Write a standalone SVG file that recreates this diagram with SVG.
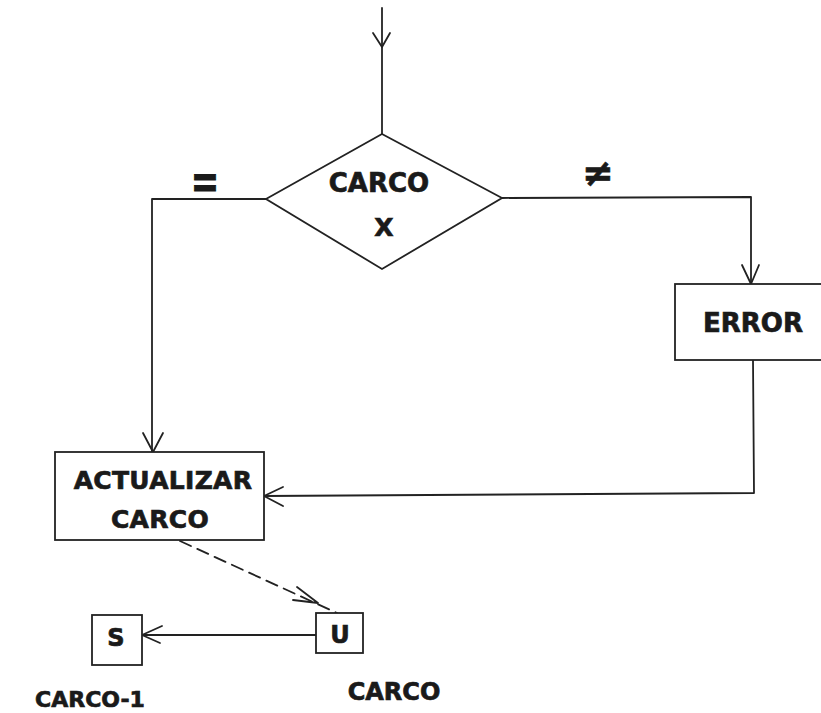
<svg xmlns="http://www.w3.org/2000/svg" width="821" height="713" viewBox="0 0 821 713">
<style>
.ln{fill:none;stroke:#222;stroke-width:1.8;stroke-linecap:round;stroke-linejoin:round}
.bx{fill:#fff;stroke:#222;stroke-width:1.8}
.ah{fill:none;stroke:#222;stroke-width:1.8;stroke-linecap:round;stroke-linejoin:round}
.t{font-family:"DejaVu Sans","Liberation Sans",sans-serif;font-weight:bold;fill:#1a1a1a;stroke:#1a1a1a;stroke-width:0.7;text-anchor:middle}
</style>
<rect width="821" height="713" fill="#fff"/>
<g id="connectors">
  <path class="ln" d="M382,8 L382,134"/>
  <path class="ah" d="M373,33 L382,47 L390,33"/>
  <path class="ln" d="M266,199 L152,199 L152,452"/>
  <path class="ah" d="M143,433 L153,452 L163,433"/>
  <path class="ln" d="M502,198 L751,197 L751,284"/>
  <path class="ah" d="M742,265 L751,284 L759,265"/>
  <path class="ln" d="M753,360 L754,493 L264,496"/>
  <path class="ah" d="M283,487 L264,496 L283,506"/>
  <path class="ln" d="M180,541 L337,613" stroke-dasharray="12,7"/>
  <path class="ah" d="M297,587 L318,603 L293,600"/>
  <path class="ln" d="M316,635 L142,635"/>
  <path class="ah" d="M162,626 L142,635 L160,643"/>
</g>
<g id="decision">
  <polygon class="bx" points="382,134 502,198 382,269 266,199"/>
  <text class="t" x="379" y="192" font-size="26">CARCO</text>
  <text class="t" x="384" y="236" font-size="25">X</text>
</g>
<g id="label-eq">
  <text class="t" x="205" y="193" font-size="34" transform="translate(205,181) scale(1,1.4) translate(-205,-181)">=</text>
</g>
<g id="label-neq">
  <text class="t" x="598" y="186" font-size="38">≠</text>
</g>
<g id="error">
  <rect class="bx" x="675" y="284" width="160" height="76"/>
  <text class="t" x="753" y="332" font-size="26">ERROR</text>
</g>
<g id="actualizar">
  <rect class="bx" x="55" y="452" width="209" height="88"/>
  <text class="t" x="163" y="489" font-size="25" letter-spacing="0.3">ACTUALIZAR</text>
  <text class="t" x="160" y="528" font-size="25" letter-spacing="0.3">CARCO</text>
</g>
<g id="u">
  <rect class="bx" x="316" y="613" width="47" height="40"/>
  <text class="t" x="340" y="643" font-size="24">U</text>
</g>
<g id="s">
  <rect class="bx" x="92" y="615" width="50" height="50"/>
  <text class="t" x="116" y="646" font-size="24">S</text>
</g>
<g id="label-carco1">
  <text class="t" x="90" y="707" font-size="22">CARCO-1</text>
</g>
<g id="label-carco">
  <text class="t" x="394" y="700" font-size="24">CARCO</text>
</g>
</svg>
